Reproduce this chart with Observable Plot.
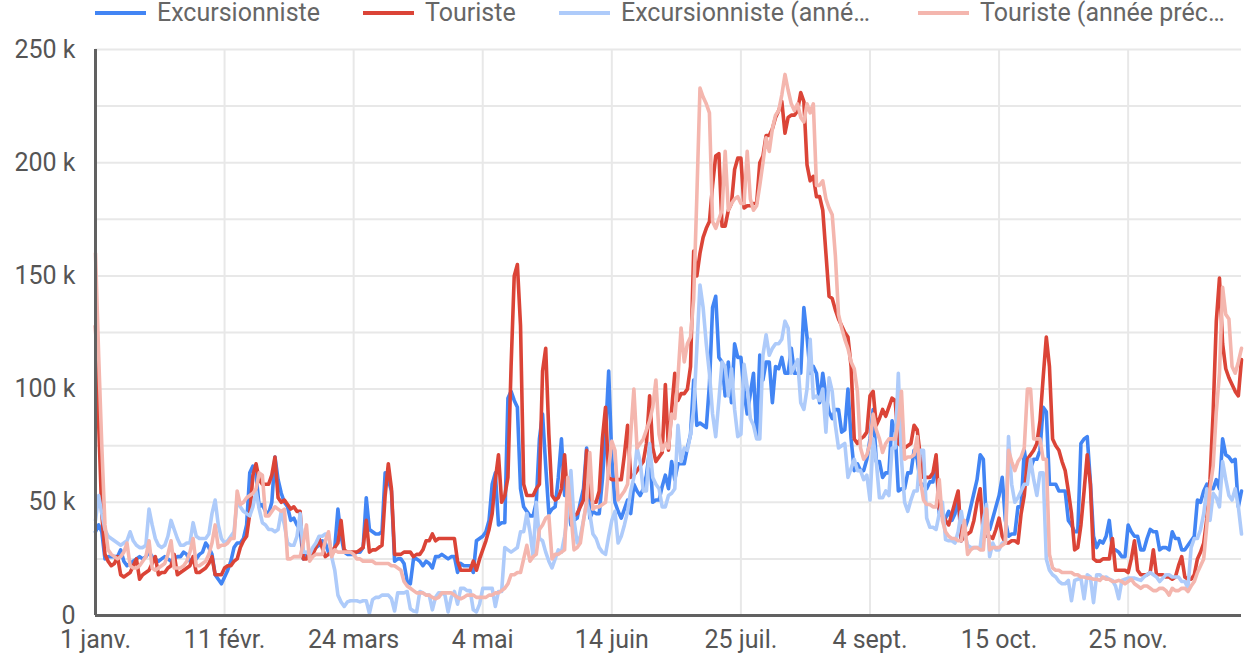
<!DOCTYPE html>
<html><head><meta charset="utf-8">
<script src="https://cdn.jsdelivr.net/npm/d3@7"></script>
<script src="https://cdn.jsdelivr.net/npm/@observablehq/plot@0.6"></script>
<style>
body{margin:0;background:#fff;font-family:Roboto,sans-serif;}
#legend{position:relative;height:30px;width:1244px;}
.item{position:absolute;top:0;height:25px;display:flex;align-items:center;font-size:25px;color:#666;white-space:nowrap;}
.sw{display:inline-block;width:51px;height:4px;margin-right:11px;}
#chart svg{display:block;}
</style></head><body>
<div id="legend"></div>
<div id="chart"></div>
<script>
// Day index 0 = 1 janv.; values in thousands
const seriesNames = ["Excursionniste","Touriste","Excursionniste (année précédente)","Touriste (année précédente)"];
const legendLabels = ["Excursionniste","Touriste","Excursionniste (anné…","Touriste (année préc…"];
const seriesColors = ["#4285f4","#db4437","#aecbfa","#f4b6ae"];
const tickDays = [0,41,82,123,164,205,246,287,328];
const tickLabels = ["1 janv.","11 févr.","24 mars","4 mai","14 juin","25 juil.","4 sept.","15 oct.","25 nov."];
const yTicks = [0,50,100,150,200,250];
const yGrid = [0,25,50,75,100,125,150,175,200,225,250];

const excursionniste = [
37,40,37,25,26,26,26,26,29,24, 22,23,24,25,26,25,26,28,26,25,
24,25,26,25,24,25,26,26,28,27, 24,25,25,27,28,32,30,27,18,16,
14,17,20,24,30,32,32,34,40,63, 66,62,48,49,46,45,50,70,60,54,
50,48,42,43,40,38,25,27,28,29, 30,31,33,32,28,28,30,47,35,28,
27,27,27,28,28,30,52,38,37,36, 36,37,63,60,55,24,25,25,23,15,
14,25,25,24,22,24,23,21,26,26, 27,26,25,26,26,19,23,22,22,22,
19,33,34,35,37,42,58,63,40,41, 41,96,99,95,92,56,48,46,44,44,
50,78,89,66,45,47,48,61,78,53, 53,40,42,43,50,56,74,43,46,45,
45,60,80,108,69,50,46,43,47,51, 45,58,55,53,56,62,73,50,51,51,
57,62,56,68,60,67,67,67,74,80, 104,84,85,84,83,102,136,141,114,112,
97,112,94,120,114,114,99,89,98,107, 79,115,104,112,112,94,110,109,114,107,
107,118,107,107,107,136,123,107,110,107, 94,107,97,90,87,91,91,81,82,100,
78,64,67,64,64,69,78,91,68,68, 61,63,63,86,81,55,56,56,63,63,
73,69,58,58,56,59,59,69,45,44, 43,46,42,45,52,33,38,42,48,54,
60,71,69,40,38,43,48,53,61,42, 35,36,36,48,48,73,64,65,69,69,
73,92,90,58,58,58,55,55,55,42, 40,37,37,76,78,79,59,35,30,33,
32,35,42,29,29,28,26,26,40,37, 35,35,29,29,34,38,37,37,29,30,
30,29,37,34,34,29,29,31,33,35, 51,50,55,58,56,56,60,56,78,71,
70,68,69,48,55
];
const touriste = [
128,85,45,27,24,22,23,26,18,17, 18,19,22,25,16,18,19,20,23,26,
18,19,19,21,22,27,18,19,20,21, 22,26,19,19,20,21,23,26,18,18,
18,21,22,22,24,25,30,33,35,45, 62,67,60,58,58,58,62,70,52,50,
51,49,47,48,46,46,25,25,28,27, 30,34,30,26,27,28,30,32,42,29,
28,28,28,28,29,30,42,28,29,29, 30,31,53,67,56,27,27,27,28,28,
28,26,27,27,29,33,33,36,33,34, 34,34,34,34,34,24,20,20,20,20,
24,20,25,29,33,38,45,60,71,50, 53,61,110,150,155,128,58,53,53,53,
56,58,108,118,80,53,51,52,56,71, 50,43,44,45,48,51,73,53,50,50,
55,78,92,61,60,60,60,60,71,84, 61,62,64,66,68,76,97,74,68,70,
72,102,73,91,107,95,98,98,100,110, 161,150,160,167,171,174,190,203,204,172,
172,179,182,197,202,202,180,181,181,182, 182,200,203,212,212,215,220,223,227,213,
220,221,221,223,231,227,199,192,194,185, 185,179,160,141,140,135,131,128,125,123,
110,78,76,78,79,81,97,99,84,87, 91,88,92,96,95,76,75,74,75,76,
84,82,70,61,61,61,63,71,47,45, 42,40,45,50,55,33,35,36,37,42,
50,56,35,35,35,34,38,43,35,32, 32,33,33,32,45,53,69,71,73,76,
86,105,123,110,78,75,73,68,64,55, 45,29,30,40,55,71,58,25,24,24,
25,25,25,34,20,20,20,20,19,25, 33,20,18,18,18,19,29,18,18,18,
17,17,16,17,22,26,17,16,16,18, 25,28,32,43,60,90,130,149,120,109,
105,102,99,97,113
];
const excursionnistePrev = [
42,53,45,38,35,34,33,32,31,32, 33,37,33,31,30,30,31,47,40,34,
31,30,31,35,42,38,34,31,31,32, 32,41,35,34,34,34,36,45,51,40,
34,32,33,35,37,51,48,46,45,44, 48,55,47,41,40,38,38,37,38,46,
40,32,31,31,35,45,28,28,27,30, 32,35,35,36,36,26,20,9,6,4,
6,6.5,6.5,6.5,6,6.5,6.5,1,7,8, 8,9,9,9,7.4,2,10,10,10,10.6,
3,2,1.6,10.6,10,9,9,2.5,8,10, 10,9,1.6,8,10.6,5,12,12,11,11,
2.5,1.6,5,12,12,12,12,4,10.6,10.6, 30,29,28,29,30,37,37,45,37,26,
50,34,33,28,24,21,25,29,28,35, 45,64,42,32,35,42,50,45,36,34,
30,28,27,35,42,46,32,35,40,46, 55,61,74,68,55,55,76,61,58,56,
48,48,53,54,56,84,68,74,73,80, 91,118,146,136,120,107,89,79,95,112,
110,97,109,91,79,80,111,101,87,84, 78,78,115,124,115,118,120,120,122,130,
127,107,110,113,94,91,100,122,96,97, 95,100,81,105,99,84,74,75,76,61,
65,69,64,64,60,62,51,78,68,52, 52,55,53,74,74,107,69,50,46,51,
55,55,73,73,43,39,39,38,45,50, 33.5,33,33,32,37,46,37,31,30,30,
30,30,42,49,26,32,29,29,32,32, 79,58,50,52,55,58,58,69,60,53,
63,63,25,20,18,17,15,14,14,15.5, 6.5,15.5,16,16.5,7.4,18,17,5.7,18,18,
16.5,17,16,15.5,13,7.4,15.5,16,16.5,16.5, 16.5,16,15.5,17,18,19,18,17,15,16.5,
18,18,17,17,17,15,15,12,30,34, 34,38,45,56,42,54,52,48,68,60,
53,51,56,48,36
];
const touristePrev = [
160,115,75,40,29,27,26,25,26,28, 32,22,21,21,22,24,26,33,21,20,
21,22,23,27,33,21,21,21,22,24, 28,34,22,22,23,24,27,32,40,30,
31,31,32,34,34,55,49,50,52,53, 54,56,63,62,44,44,46,48,47,46,
47,25,25,26,26,26,32,40,24,26, 27,27,27,33,37,26,29,28,28,28,
28,28,27,25,25,24,24,24,24,23, 23,23,23,23,22,22,21,20,15,13,
12,11,10,10,10,9,9,8,7.4,8, 10,10,10,10,9,8,7.4,8,9,9,
9,8,8,8,8,9,9,10,10,11, 12,14,18,18,19,19,25,31,24,26,
27,38,40,43,44,25,27,27,28,29, 61,45,29,30,32,42,50,72,47,48,
48,49,50,65,77,73,51,53,55,58, 80,100,74,76,78,82,86,92,104,80,
73,76,74,89,87,105,127,112,120,123, 140,185,233,229,226,222,174,171,175,179,
205,179,182,184,185,182,182,205,184,179, 181,190,200,211,205,215,221,223,230,239,
232,226,223,226,220,218,226,222,226,190, 190,192,184,180,177,159,133,127,122,118,
112,109,99,74,69,71,76,89,82,78, 72,76,78,78,78,85,99,69,70,70,
71,79,60,51,49,49,48,48,60,42, 37,35,34,34,33,33,42,27,29,30,
30,29,29,47,29,30,30,30,31,32, 73,68,64,68,70,74,100,100,78,78,
78,69,69,27,21,20,20,19,19,19, 19,18,18,17,17,16.5,16.5,16,16,15.5,
17,16,16,15,15,15.5,15,14,15,16, 14,13,12,13,13,12,11,11,12,12,
11,9,12,11,11,12,12,10.6,13,15, 19,22,25,40,56,66,90,107,145,133,
131,110,107,112,118
];

const allSeries = [excursionniste, touriste, excursionnistePrev, touristePrev];
const rows = allSeries.map((vals, s) => vals.map((v, i) => ({series: seriesNames[s], day: i, value: v})));

// legend
const legendLeft = [95, 363, 559, 918];
const legend = document.getElementById("legend");
legendLabels.forEach((lab, i) => {
  const it = document.createElement("div");
  it.className = "item";
  it.style.left = legendLeft[i] + "px";
  const sw = document.createElement("span");
  sw.className = "sw";
  sw.style.background = seriesColors[i];
  it.appendChild(sw);
  it.appendChild(document.createTextNode(lab));
  legend.appendChild(it);
});

const chart = Plot.plot({
  width: 1244,
  height: 632,
  marginLeft: 95,
  marginRight: 3,
  marginTop: 19,
  marginBottom: 47,
  style: {fontFamily: "Roboto, sans-serif", fontSize: "25px", color: "#555", background: "#fff", overflow: "visible"},
  x: {domain: [0, 364], label: null},
  y: {domain: [0, 250], label: null},
  marks: [
    Plot.gridY(yGrid, {stroke: "#e8e8e8", strokeOpacity: 1, strokeWidth: 2}),
    Plot.gridX(tickDays, {stroke: "#e8e8e8", strokeOpacity: 1, strokeWidth: 2}),
    Plot.axisY(yTicks, {tickSize: 0, tickPadding: 20, fontSize: 25, label: null, tickFormat: d => d === 0 ? "0" : d + " k"}),
    Plot.axisX(tickDays, {tickSize: 0, tickPadding: 15, fontSize: 25, label: null, tickFormat: d => tickLabels[tickDays.indexOf(d)]}),
    ...rows.map((r, s) => Plot.lineY(r, {x: "day", y: "value", stroke: seriesColors[s], strokeWidth: 3.6, strokeLinejoin: "round"})),
    Plot.ruleX([0], {stroke: "#616161", strokeWidth: 3}),
    Plot.ruleY([0], {stroke: "#616161", strokeWidth: 3})
  ]
});
document.getElementById("chart").appendChild(chart);
</script>
</body></html>
